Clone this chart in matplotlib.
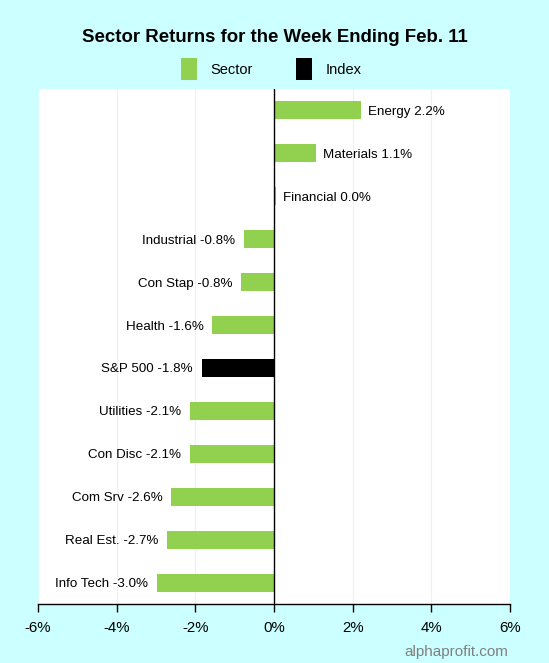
import matplotlib
matplotlib.use("Agg")
import matplotlib.pyplot as plt
from matplotlib.patches import Patch
from matplotlib.ticker import FuncFormatter

names = ["Energy", "Materials", "Financial", "Industrial", "Con Stap", "Health",
         "S&P 500", "Utilities", "Con Disc", "Com Srv", "Real Est.", "Info Tech"]
values = [2.21, 1.07, 0.04, -0.77, -0.84, -1.57, -1.84, -2.14, -2.14, -2.62, -2.72, -2.98]
kinds = ["Sector"] * 6 + ["Index"] + ["Sector"] * 5
xticks = [-6, -4, -2, 0, 2, 4, 6]

GREEN = "#92D050"
BG = "#CCFFFF"
plt.rcParams["font.family"] = ["Liberation Sans", "DejaVu Sans"]

fig = plt.figure(figsize=(5.49, 6.63), dpi=100, facecolor=BG)
ax = fig.add_axes([38 / 549, 1 - 604 / 663, 472 / 549, 515 / 663])
ax.set_facecolor("white")

ypos = list(range(len(names)))
colors = [GREEN if k == "Sector" else "black" for k in kinds]
ax.barh(ypos, values, height=0.42, color=colors, zorder=3)

for y, n, v in zip(ypos, names, values):
    txt = f"{n} {v:.1f}%"
    if v >= 0:
        ax.text(v + 0.18, y, txt, va="center_baseline", ha="left", fontsize=9.6, zorder=6)
    else:
        ax.text(v - 0.22, y, txt, va="center_baseline", ha="right", fontsize=9.6, zorder=6)

ax.set_xlim(-6, 6)
ax.set_ylim(len(names) - 0.5, -0.5)
ax.set_xticks(xticks)
ax.xaxis.set_major_formatter(FuncFormatter(lambda x, p: f"{int(x)}%"))
ax.set_yticks([])
for x in xticks:
    if x != 0:
        ax.axvline(x, color="#D6FBFB", lw=0.8, zorder=1)
ax.axvline(0, color="black", lw=1, zorder=5)

for s in ["top", "right", "left"]:
    ax.spines[s].set_visible(False)
ax.spines["bottom"].set_linewidth(1)
ax.tick_params(axis="x", length=6, width=1, labelsize=10.8, pad=6)

fig.text(0.5, 1 - 37 / 663, "Sector Returns for the Week Ending Feb. 11",
         ha="center", va="center", fontsize=13.4, fontweight="bold")

handles = [Patch(facecolor=GREEN, label="Sector"), Patch(facecolor="black", label="Index")]
fig.legend(handles=handles, loc="center", bbox_to_anchor=(271 / 549, 1 - 69 / 663), ncol=2,
           frameon=False, fontsize=10.5, handlelength=1.1, handleheight=1.9,
           columnspacing=3.0, handletextpad=0.9)

fig.text(508 / 549, 1 - 652 / 663, "alphaprofit.com", ha="right", va="center",
         fontsize=11, color="#808080")

fig.savefig("out.png", dpi=100, facecolor=BG)
